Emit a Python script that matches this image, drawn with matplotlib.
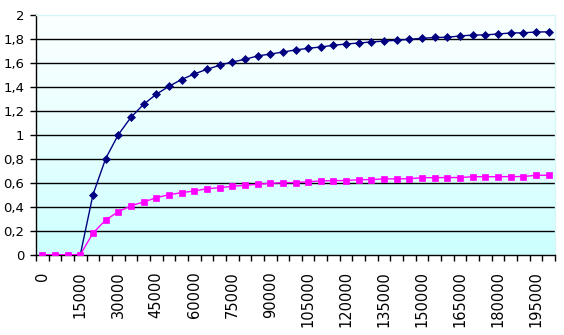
import matplotlib
matplotlib.use("Agg")
import matplotlib.pyplot as plt
import numpy as np

# categories : 0 a 200000 par pas de 5000
categories = [str(v) for v in range(0, 200001, 5000)]

# serie bleue (losanges)
serie_bleue = [0, 0, 0, 0, 0.50, 0.80, 1.00, 1.145, 1.253, 1.337, 1.403,
               1.46, 1.506, 1.545, 1.578, 1.606, 1.628, 1.656, 1.672, 1.689,
               1.706, 1.72, 1.731, 1.745, 1.756, 1.764, 1.773, 1.78, 1.787,
               1.795, 1.803, 1.81, 1.812, 1.823, 1.83, 1.832, 1.839, 1.848,
               1.849, 1.856, 1.857]

# serie rose (carres)
serie_rose = [0, 0, 0, 0, 0.18, 0.289, 0.358, 0.408, 0.439, 0.475, 0.50,
              0.517, 0.531, 0.55, 0.558, 0.57, 0.578, 0.587, 0.595, 0.60,
              0.601, 0.608, 0.615, 0.617, 0.618, 0.625, 0.626, 0.632, 0.632,
              0.633, 0.642, 0.642, 0.643, 0.643, 0.65, 0.65, 0.65, 0.651,
              0.651, 0.662, 0.662]

y_ticks = [0, 0.2, 0.4, 0.6, 0.8, 1, 1.2, 1.4, 1.6, 1.8, 2]
y_labels = ["0", "0,2", "0,4", "0,6", "0,8", "1", "1,2", "1,4", "1,6", "1,8", "2"]

W, H = 564, 335
fig = plt.figure(figsize=(W / 100, H / 100), dpi=100)
ax = fig.add_axes([36 / W, (H - 254.7) / H, 519 / W, 240 / H])

x = np.arange(len(categories))
n = len(categories)

#fond degrade (blanc en haut, cyan clair en bas)
grad = np.linspace(0, 1, 256).reshape(-1, 1) ** 1.3
haut = np.array([0.98, 1.0, 1.0])
bas = np.array([0.80, 1.0, 1.0])
img = haut + (bas - haut) * grad[:, :, None] * np.ones((1, 1, 3))
ax.imshow(img, extent=[-0.5, n - 0.5, 0, 2], aspect="auto", zorder=0,
          origin="upper", interpolation="bilinear")

# grille
for yv in y_ticks[1:-1]:
    ax.axhline(yv, color="black", lw=1.0, zorder=1)

# les losanges a zero sont caches par les carres dans l'original
visibles = [i for i in range(n) if serie_bleue[i] > 0]
ax.plot(x, serie_bleue, color="#000080", lw=1.0, marker="D", markersize=4,
        markeredgewidth=0.5, markevery=visibles, zorder=3)
ax.plot(x, serie_rose, color="#FF00FF", lw=1.0, marker="s", markersize=4.3,
        markeredgewidth=0.5, zorder=4)

ax.set_xlim(-0.5, n - 0.5)
ax.set_ylim(0, 2)

ax.set_yticks(y_ticks)
ax.set_yticklabels(y_labels, fontsize=9.5)
ax.tick_params(axis="y", direction="out", length=4, width=1, pad=4.5)

lab_pos = x[::3]
ax.set_xticks(lab_pos)
ax.set_xticklabels([categories[i] for i in lab_pos], rotation=90, fontsize=10.5)
ax.set_xticks(np.arange(-0.5, n, 1.0), minor=True)
ax.tick_params(axis="x", which="major", length=0, pad=12)
ax.tick_params(axis="x", which="minor", direction="out", length=4, width=1)

for s in ["left", "bottom"]:
    ax.spines[s].set_color("black")
    ax.spines[s].set_linewidth(1.0)
for s in ["top", "right"]:
    ax.spines[s].set_color("#d9f5f5")
    ax.spines[s].set_linewidth(1.0)

fig.savefig("out.png", dpi=100, facecolor="white")
